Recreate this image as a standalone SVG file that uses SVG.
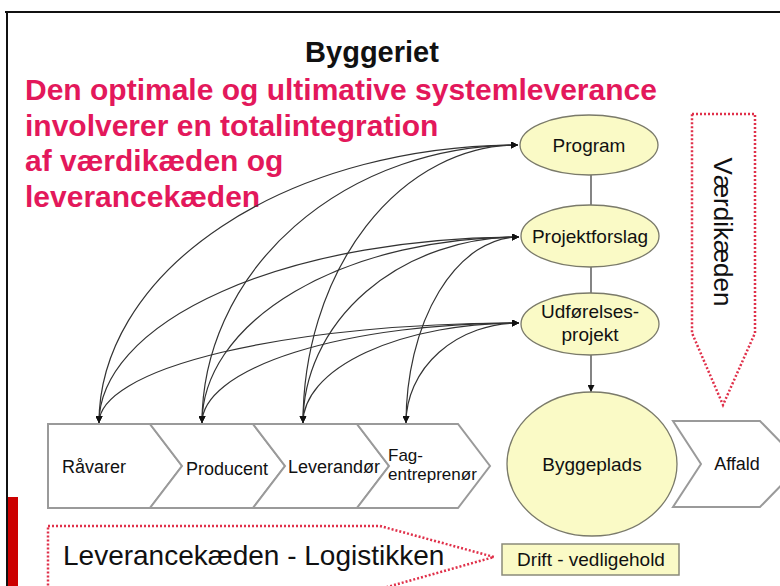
<svg xmlns="http://www.w3.org/2000/svg" width="780" height="586" viewBox="0 0 780 586">
<style>
.t{font-family:"Liberation Sans",Arial,sans-serif;fill:#111}
.pink{font-family:"Liberation Sans",Arial,sans-serif;font-weight:bold;font-size:30px;fill:#e3185b}
.ell{fill:#fafac6;stroke:#7a7a6a;stroke-width:1.3}
.chev{fill:#fff;stroke:#9a9a9a;stroke-width:2}
.dot{fill:none;stroke:#e0304a;stroke-width:2.5;stroke-dasharray:2 2}
.c{fill:none;stroke:#333;stroke-width:1.2}
.lbl{font-size:18px}
.nl{font-size:19px;text-anchor:middle}
</style>
<defs>
<marker id="ah" viewBox="0 0 10 10" refX="10" refY="5" markerWidth="7" markerHeight="7" markerUnits="userSpaceOnUse" orient="auto-start-reverse">
<path d="M0,0 L10,5 L0,10 z" fill="#111"/>
</marker>
</defs>
<rect x="0" y="0" width="780" height="586" fill="#fff"/>
<g id="frame">
<line x1="5" y1="12" x2="780" y2="12" stroke="#111" stroke-width="2"/>
<line x1="7" y1="12" x2="7" y2="586" stroke="#111" stroke-width="2"/>
<rect x="8" y="497" width="10" height="89" fill="#cc0000"/>
</g>
<g id="title">
<text class="t" x="372" y="62" font-size="29" font-weight="bold" text-anchor="middle">Byggeriet</text>
<text class="pink" x="25" y="100">Den optimale og ultimative systemleverance</text>
<text class="pink" x="25" y="136">involverer en totalintegration</text>
<text class="pink" x="25" y="171">af værdikæden og</text>
<text class="pink" x="25" y="207">leverancekæden</text>
</g>
<g id="vaerdikaeden">
<path class="dot" d="M692,114 L755,114 L755,333 L723,405 L692,333 Z"/>
<text class="t" transform="translate(714,232) rotate(90)" font-size="26" text-anchor="middle">Værdikæden</text>
</g>
<g id="leverancekaeden">
<path class="dot" d="M48,526 L380,526 L494,557 L380,589 L48,589 Z"/>
<text class="t" x="63" y="565" font-size="28">Leverancekæden - Logistikken</text>
</g>
<g id="connectors">
<line class="c" x1="591" y1="175" x2="591" y2="205"/>
<line class="c" x1="591" y1="267" x2="591" y2="293"/>
<line class="c" x1="591" y1="355" x2="591" y2="392" marker-end="url(#ah)"/>
<path class="c" d="M99,423 A419,278 0 0 1 518,145" marker-start="url(#ah)" marker-end="url(#ah)"/>
<path class="c" d="M202,423 A316,278 0 0 1 518,145" marker-start="url(#ah)" marker-end="url(#ah)"/>
<path class="c" d="M303,423 A215,278 0 0 1 518,145" marker-start="url(#ah)" marker-end="url(#ah)"/>
<path class="c" d="M99,423 A420,186 0 0 1 519,237" marker-start="url(#ah)" marker-end="url(#ah)"/>
<path class="c" d="M202,423 A317,186 0 0 1 519,237" marker-start="url(#ah)" marker-end="url(#ah)"/>
<path class="c" d="M303,423 A216,186 0 0 1 519,237" marker-start="url(#ah)" marker-end="url(#ah)"/>
<path class="c" d="M406,423 A113,186 0 0 1 519,237" marker-start="url(#ah)" marker-end="url(#ah)"/>
<path class="c" d="M99,423 A420,100 0 0 1 519,323" marker-start="url(#ah)" marker-end="url(#ah)"/>
<path class="c" d="M202,423 A317,100 0 0 1 519,323" marker-start="url(#ah)" marker-end="url(#ah)"/>
<path class="c" d="M303,423 A216,100 0 0 1 519,323" marker-start="url(#ah)" marker-end="url(#ah)"/>
<path class="c" d="M406,423 A113,100 0 0 1 519,323" marker-start="url(#ah)" marker-end="url(#ah)"/>
</g>
<g id="program">
<ellipse class="ell" cx="589" cy="145" rx="69" ry="30"/>
<text class="t nl" x="589" y="152">Program</text>
</g>
<g id="projektforslag">
<ellipse class="ell" cx="590" cy="236" rx="69" ry="31"/>
<text class="t nl" x="590" y="243">Projektforslag</text>
</g>
<g id="udfoerelsesprojekt">
<ellipse class="ell" cx="590" cy="324" rx="69" ry="31"/>
<text class="t nl" x="590" y="318">Udførelses-</text>
<text class="t nl" x="590" y="341">projekt</text>
</g>
<g id="byggeplads">
<ellipse class="ell" cx="592" cy="464" rx="85" ry="72"/>
<text class="t nl" x="592" y="471">Byggeplads</text>
</g>
<g id="drift">
<rect x="502" y="544" width="177" height="31" fill="#fafac6" stroke="#8a8a7a" stroke-width="1.5"/>
<text class="t nl" x="591" y="566">Drift - vedligehold</text>
</g>
<g id="raavarer">
<path class="chev" d="M48,424 L150,424 L182,466 L150,508 L48,508 Z"/>
<text class="t lbl" x="62" y="473">Råvarer</text>
</g>
<g id="producent">
<path class="chev" d="M150,424 L253,424 L285,466 L253,508 L150,508 L182,466 Z"/>
<text class="t lbl" x="186" y="475">Producent</text>
</g>
<g id="leverandoer">
<path class="chev" d="M253,424 L357,424 L389,466 L357,508 L253,508 L285,466 Z"/>
<text class="t lbl" x="288" y="473">Leverandør</text>
</g>
<g id="fagentreprenoer">
<path class="chev" d="M357,424 L458,424 L490,466 L458,508 L357,508 L389,466 Z"/>
<text class="t" x="388" y="461" font-size="17">Fag-</text>
<text class="t" x="388" y="480" font-size="17">entreprenør</text>
</g>
<g id="affald">
<path class="chev" d="M673,421 L760,421 L802,464 L760,507 L673,507 L701,464 Z"/>
<text class="t lbl" x="737" y="470" text-anchor="middle">Affald</text>
</g>
</svg>
